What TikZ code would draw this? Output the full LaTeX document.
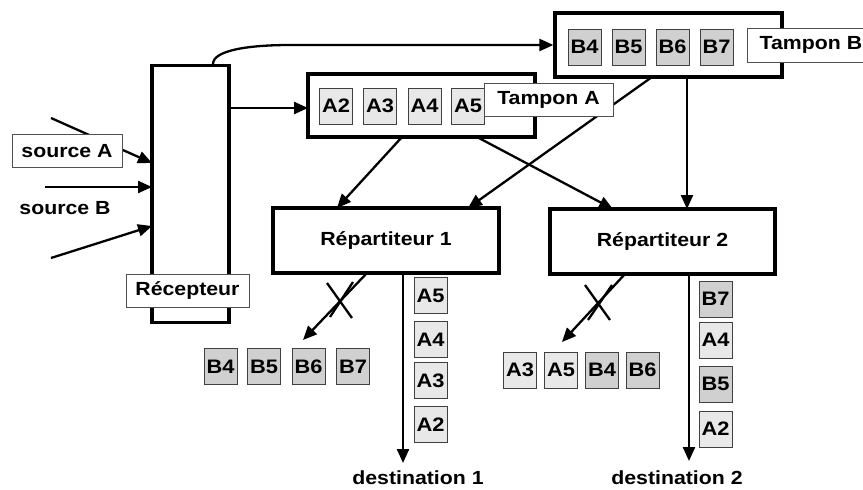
\documentclass[tikz,border=0pt]{standalone}
\usepackage{fontspec}
\setmainfont{Liberation Sans}[FakeStretch=1.12]
\usetikzlibrary{arrows.meta}
\definecolor{cellA}{HTML}{E8E8E8}
\definecolor{cellB}{HTML}{D0D0D0}
\definecolor{celledge}{HTML}{404040}
\definecolor{lbledge}{HTML}{505050}
\tikzset{
  bigbox/.style={draw, line width=3.2pt, fill=white, minimum width=#1, inner sep=0pt},
  lbl/.style={draw=lbledge, line width=0.9pt, fill=white, inner sep=0pt, minimum height=33pt, font=\fontsize{19}{21}\selectfont\bfseries},
  cell/.style={draw=celledge, line width=1pt, inner sep=0pt, minimum width=33pt, minimum height=36pt, font=\fontsize{19.5}{21}\selectfont\bfseries},
  pa/.style={cell, fill=cellA},
  pb/.style={cell, fill=cellB},
  txt/.style={font=\fontsize{19}{21}\selectfont\bfseries},
  arr/.style={line width=2.3pt, -{Triangle[length=14pt,width=12pt]}},
  cross/.style={line width=2.3pt},
}
\begin{document}
\begin{tikzpicture}[x=1pt,y=-1pt]
\useasboundingbox (0,0) rectangle (863,490);

% main blocks
\node[bigbox=77pt, minimum height=257pt] (rec) at (190.5,194) {};
\node[bigbox=227pt, minimum height=63pt] (ta) at (421.5,105.5) {};
\node[bigbox=227pt, minimum height=64pt] (tb) at (668.5,45) {};
\node[bigbox=226pt, minimum height=65pt, txt] (r1) at (386,240.5) {Répartiteur 1};
\node[bigbox=225pt, minimum height=65pt, txt] (r2) at (662.5,241.5) {Répartiteur 2};

% packets inside the buffers
\node[pa] (ta2) at (336,106) {A2};
\node[pa] (ta3) at (380,106) {A3};
\node[pa] (ta4) at (424.5,106) {A4};
\node[pa] (ta5) at (468,106) {A5};
\node[pb] (tb4) at (584.5,47) {B4};
\node[pb] (tb5) at (628.5,47) {B5};
\node[pb] (tb6) at (672.5,47) {B6};
\node[pb] (tb7) at (716.5,47) {B7};

% inputs of the receiver
\coordinate (sa0) at (51,118);
\coordinate (sa1) at (152,163);
\coordinate (sb0) at (45,187);
\coordinate (sb1) at (152,187);
\coordinate (sc0) at (51,258);
\coordinate (sc1) at (152,226);
\draw[arr] (sa0) -- (sa1);
\draw[arr] (sb0) -- (sb1);
\draw[arr] (sc0) -- (sc1);

% receiver to buffers
\coordinate (recA) at (229,108);
\coordinate (taIn) at (308,108);
\draw[arr] (recA) -- (taIn);
\coordinate (recTop) at (213,64);
\coordinate (bend) at (290,45);
\draw[arr] (recTop) .. controls (213,50) and (250,45) .. (bend) -- (tb.west);

% buffers to dispatchers
\coordinate (taL) at (402,137);
\coordinate (taR) at (477,137);
\coordinate (tbL) at (652,77);
\coordinate (tbR) at (687,77);
\coordinate (r1a) at (337,208);
\coordinate (r1b) at (468,208);
\coordinate (r2a) at (613,209);
\coordinate (r2b) at (687,209);
\draw[arr] (taL) -- (r1a);
\draw[arr] (taR) -- (r2a);
\draw[arr] (tbL) -- (r1b);
\draw[arr] (tbR) -- (r2b);

% dispatcher outputs
\coordinate (r1out) at (403,273);
\coordinate (d1) at (403,463);
\coordinate (r2out) at (689,274);
\coordinate (d2) at (689,461);
\draw[arr] (r1out) -- (d1);
\draw[arr] (r2out) -- (d2);
\coordinate (r1drop) at (367,273);
\coordinate (r1bin) at (303,340);
\coordinate (r2drop) at (625,274);
\coordinate (r2bin) at (562,342);
\draw[arr] (r1drop) -- (r1bin);
\draw[arr] (r2drop) -- (r2bin);

% crosses on the rejected flows
\draw[cross] (327,283) -- (352,318);
\draw[cross] (353,282) -- (330,317);
\draw[cross] (585,285) -- (610,320);
\draw[cross] (612,285) -- (588,320);

% packets leaving dispatcher 1
\node[pa] (d1a5) at (430.5,295.5) {A5};
\node[pa] (d1a4) at (430.5,339.5) {A4};
\node[pa] (d1a3) at (430.5,380.5) {A3};
\node[pa] (d1a2) at (430.5,424.5) {A2};
\node[pb] (x1b4) at (220.5,366.5) {B4};
\node[pb] (x1b5) at (264,366.5) {B5};
\node[pb] (x1b6) at (308.5,366.5) {B6};
\node[pb] (x1b7) at (353,366.5) {B7};

% packets leaving dispatcher 2
\node[pb] (d2b7) at (715.5,299) {B7};
\node[pa] (d2a4) at (715.5,340) {A4};
\node[pb] (d2b5) at (715.5,384) {B5};
\node[pa] (d2a2) at (715.5,429) {A2};
\node[pa] (x2a3) at (520,370) {A3};
\node[pa] (x2a5) at (561,370) {A5};
\node[pb] (x2b4) at (602,370) {B4};
\node[pb] (x2b6) at (642.5,370) {B6};

% labels
\node[lbl, minimum width=110pt] (lsa) at (67,151) {source A};
\node[txt] (lsb) at (65,208) {source B};
\node[lbl, minimum width=123pt] (lrec) at (187.5,290.5) {Récepteur};
\node[lbl, minimum width=129pt] (lta) at (548.5,99.5) {Tampon A};
\node[lbl, minimum width=122pt, minimum height=34pt, anchor=west] (ltb) at (747,45) {\hspace*{5pt}Tampon B\hfill};
\node[txt] (ld1) at (418,478) {destination 1};
\node[txt] (ld2) at (677,478) {destination 2};
\end{tikzpicture}
\end{document}
